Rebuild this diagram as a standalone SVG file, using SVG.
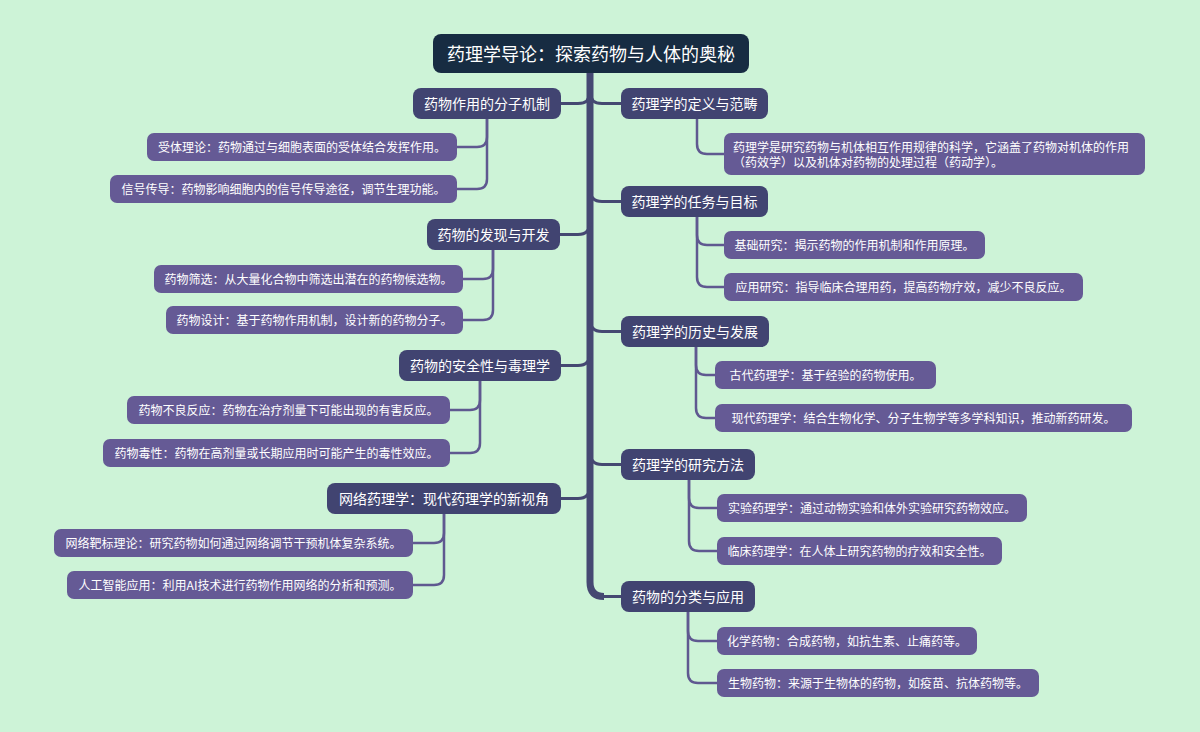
<svg xmlns="http://www.w3.org/2000/svg" width="1200" height="732" viewBox="0 0 1200 732">
<style>
text{font-family:"Noto Sans CJK SC","Noto Sans",sans-serif;fill:#ffffff;text-anchor:middle}
.t0{font-size:18px}
.t1{font-size:14px}
.t2{font-size:12px}
.r0{fill:#172c42}
.r1{fill:#414471}
.r2{fill:#655a95}
.trunk{fill:none;stroke:#454872;stroke-width:7;stroke-linecap:butt}
.br{fill:none;stroke:#454872;stroke-width:3}
.ch{fill:none;stroke:#5f5890;stroke-width:2.5}
</style>
<rect width="1200" height="732" fill="#cdf3d7"/>
<g id="connectors">
<path class="trunk" d="M590,73 L590,582 Q590,596.5 604,596.5"/>
<path class="br" d="M602,596.5 L621,596.5"/>
<path class="br" d="M590,92 Q590,103.5 578,103.5 L561,103.5"/>
<path class="br" d="M590,222 Q590,234.5 578,234.5 L560,234.5"/>
<path class="br" d="M590,353 Q590,365.5 578,365.5 L561,365.5"/>
<path class="br" d="M590,486 Q590,498.5 578,498.5 L561,498.5"/>
<path class="br" d="M590,92 Q590,103.5 602,103.5 L621,103.5"/>
<path class="br" d="M590,189 Q590,201.5 602,201.5 L621,201.5"/>
<path class="br" d="M590,319 Q590,331.5 602,331.5 L621,331.5"/>
<path class="br" d="M590,452 Q590,464.5 602,464.5 L621,464.5"/>
<path class="ch" d="M487,119 L487,137 Q487,147 477,147 L457,147"/>
<path class="ch" d="M487,119 L487,179 Q487,189 477,189 L457,189"/>
<path class="ch" d="M493,250 L493,269 Q493,279 483,279 L463,279"/>
<path class="ch" d="M493,250 L493,310 Q493,320 483,320 L463,320"/>
<path class="ch" d="M480,381 L480,400 Q480,410 470,410 L450,410"/>
<path class="ch" d="M480,381 L480,443 Q480,453 470,453 L450,453"/>
<path class="ch" d="M444,514 L444,533 Q444,543 434,543 L413,543"/>
<path class="ch" d="M444,514 L444,575 Q444,585 434,585 L413,585"/>
<path class="ch" d="M697,119 L697,144 Q697,154 707,154 L724,154"/>
<path class="ch" d="M697,217 L697,235 Q697,245 707,245 L724,245"/>
<path class="ch" d="M697,217 L697,277 Q697,287 707,287 L724,287"/>
<path class="ch" d="M696,347 L696,365 Q696,375 706,375 L715,375"/>
<path class="ch" d="M696,347 L696,408 Q696,418 706,418 L715,418"/>
<path class="ch" d="M689,480 L689,498 Q689,508 699,508 L717,508"/>
<path class="ch" d="M689,480 L689,541 Q689,551 699,551 L717,551"/>
<path class="ch" d="M688,612 L688,631 Q688,641 698,641 L717,641"/>
<path class="ch" d="M688,612 L688,673 Q688,683 698,683 L717,683"/>
</g>
<g id="root"><rect class="r0" x="433" y="34" width="316" height="39" rx="8"/><text class="t0" x="591" y="60.5">药理学导论：探索药物与人体的奥秘</text></g>
<g id="n-l1"><rect class="r1" x="413" y="88" width="148" height="31" rx="8"/><text class="t1" x="487" y="108.8">药物作用的分子机制</text></g>
<g id="n-l2"><rect class="r1" x="427" y="219" width="133" height="31" rx="8"/><text class="t1" x="493.5" y="239.8">药物的发现与开发</text></g>
<g id="n-l3"><rect class="r1" x="399" y="350" width="162" height="31" rx="8"/><text class="t1" x="480" y="370.8">药物的安全性与毒理学</text></g>
<g id="n-l4"><rect class="r1" x="327" y="483" width="234" height="31" rx="8"/><text class="t1" x="444" y="503.8">网络药理学：现代药理学的新视角</text></g>
<g id="n-r1"><rect class="r1" x="621" y="88" width="147" height="31" rx="8"/><text class="t1" x="694.5" y="108.8">药理学的定义与范畴</text></g>
<g id="n-r2"><rect class="r1" x="621" y="186" width="147" height="31" rx="8"/><text class="t1" x="694.5" y="206.8">药理学的任务与目标</text></g>
<g id="n-r3"><rect class="r1" x="621" y="316" width="148" height="31" rx="8"/><text class="t1" x="695" y="336.8">药理学的历史与发展</text></g>
<g id="n-r4"><rect class="r1" x="621" y="449" width="134" height="31" rx="8"/><text class="t1" x="688" y="469.8">药理学的研究方法</text></g>
<g id="n-r5"><rect class="r1" x="621" y="581" width="134" height="31" rx="8"/><text class="t1" x="688" y="601.8">药物的分类与应用</text></g>
<g id="n-l1a"><rect class="r2" x="147" y="133" width="310" height="28" rx="7"/><text class="t2" x="302" y="151.5">受体理论：药物通过与细胞表面的受体结合发挥作用。</text></g>
<g id="n-l1b"><rect class="r2" x="110" y="175" width="347" height="28" rx="7"/><text class="t2" x="283.5" y="193.5">信号传导：药物影响细胞内的信号传导途径，调节生理功能。</text></g>
<g id="n-l2a"><rect class="r2" x="154" y="265" width="309" height="28" rx="7"/><text class="t2" x="308.5" y="283.5">药物筛选：从大量化合物中筛选出潜在的药物候选物。</text></g>
<g id="n-l2b"><rect class="r2" x="166" y="306" width="297" height="28" rx="7"/><text class="t2" x="314.5" y="324.5">药物设计：基于药物作用机制，设计新的药物分子。</text></g>
<g id="n-l3a"><rect class="r2" x="127" y="396" width="323" height="28" rx="7"/><text class="t2" x="288.5" y="414.5">药物不良反应：药物在治疗剂量下可能出现的有害反应。</text></g>
<g id="n-l3b"><rect class="r2" x="103" y="439" width="347" height="28" rx="7"/><text class="t2" x="276.5" y="457.5">药物毒性：药物在高剂量或长期应用时可能产生的毒性效应。</text></g>
<g id="n-l4a"><rect class="r2" x="54" y="529" width="359" height="28" rx="7"/><text class="t2" x="233.5" y="547.5">网络靶标理论：研究药物如何通过网络调节干预机体复杂系统。</text></g>
<g id="n-l4b"><rect class="r2" x="67" y="571" width="346" height="28" rx="7"/><text class="t2" x="240" y="589.5">人工智能应用：利用AI技术进行药物作用网络的分析和预测。</text></g>
<g id="n-r1a"><rect class="r2" x="724" y="133" width="421" height="42" rx="7"/><text class="t2" x="733" y="151.5" style="text-anchor:start">药理学是研究药物与机体相互作用规律的科学，它涵盖了药物对机体的作用</text><text class="t2" x="733" y="166.5" style="text-anchor:start">（药效学）以及机体对药物的处理过程（药动学）。</text></g>
<g id="n-r2a"><rect class="r2" x="724" y="231" width="261" height="28" rx="7"/><text class="t2" x="854.5" y="249.5">基础研究：揭示药物的作用机制和作用原理。</text></g>
<g id="n-r2b"><rect class="r2" x="724" y="273" width="359" height="28" rx="7"/><text class="t2" x="903.5" y="291.5">应用研究：指导临床合理用药，提高药物疗效，减少不良反应。</text></g>
<g id="n-r3a"><rect class="r2" x="715" y="361" width="221" height="28" rx="7"/><text class="t2" x="825.5" y="379.5">古代药理学：基于经验的药物使用。</text></g>
<g id="n-r3b"><rect class="r2" x="715" y="404" width="417" height="28" rx="7"/><text class="t2" x="923.5" y="422.5">现代药理学：结合生物化学、分子生物学等多学科知识，推动新药研发。</text></g>
<g id="n-r4a"><rect class="r2" x="717" y="494" width="310" height="28" rx="7"/><text class="t2" x="872" y="512.5">实验药理学：通过动物实验和体外实验研究药物效应。</text></g>
<g id="n-r4b"><rect class="r2" x="717" y="537" width="285" height="28" rx="7"/><text class="t2" x="859.5" y="555.5">临床药理学：在人体上研究药物的疗效和安全性。</text></g>
<g id="n-r5a"><rect class="r2" x="717" y="627" width="260" height="28" rx="7"/><text class="t2" x="847" y="645.5">化学药物：合成药物，如抗生素、止痛药等。</text></g>
<g id="n-r5b"><rect class="r2" x="717" y="669" width="322" height="28" rx="7"/><text class="t2" x="878" y="687.5">生物药物：来源于生物体的药物，如疫苗、抗体药物等。</text></g>
</svg>
